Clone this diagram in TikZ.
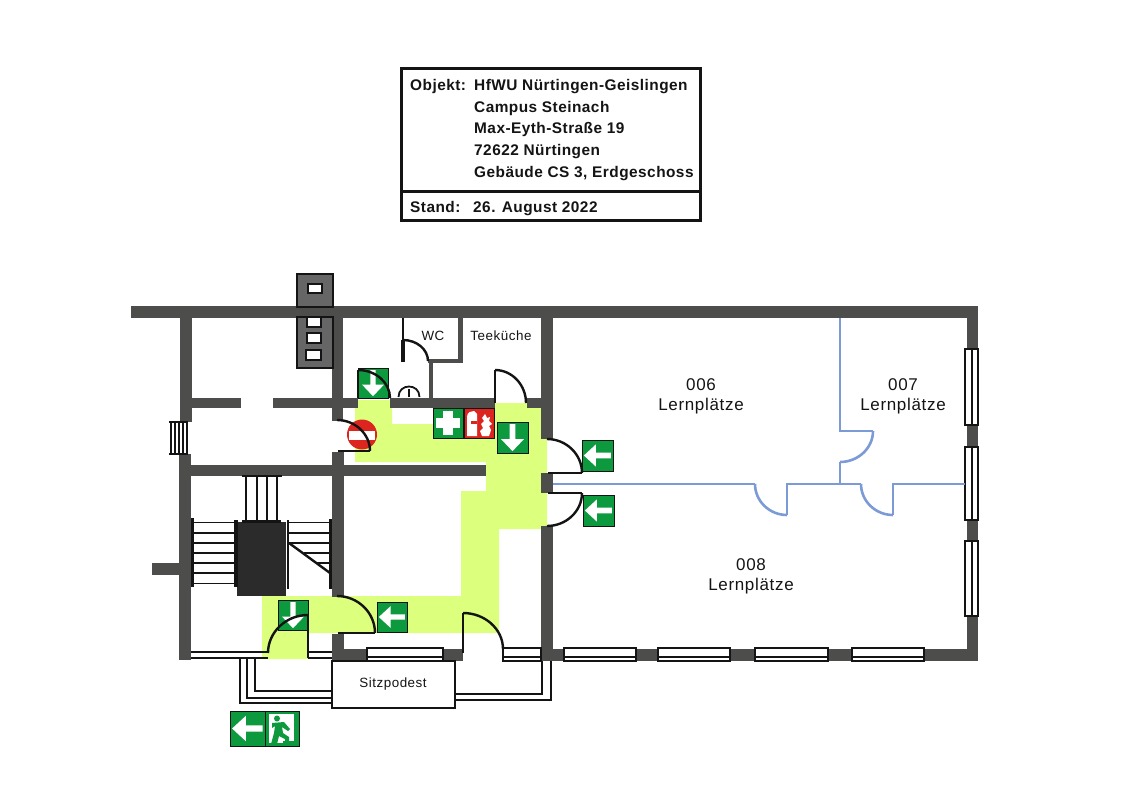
\documentclass[tikz,border=0pt]{standalone}
\usepackage{fontspec}
\setmainfont{Liberation Sans}
\newfontfamily\spaced[LetterSpace=4]{Liberation Sans}
\newfontfamily\boxfont[LetterSpace=3]{Liberation Sans Bold}
\definecolor{wallc}{HTML}{4D4D4B}
\definecolor{chimc}{HTML}{666666}
\definecolor{routec}{HTML}{DCFF7D}
\definecolor{signg}{HTML}{0D9A3E}
\definecolor{signr}{HTML}{DD2520}
\definecolor{bluec}{HTML}{7B9AD6}
\definecolor{inkc}{HTML}{141414}
\definecolor{stairc}{HTML}{2B2B2B}
\tikzset{
 wall/.style={fill=wallc,draw=none},
 ink/.style={draw=inkc,line width=2pt},
 doorline/.style={draw=inkc,line width=2.4pt},
 partition/.style={draw=bluec,line width=2.6pt,line join=miter},
 winframe/.style={draw=inkc,fill=white,line width=2pt},
 signbox/.style={draw=inkc,line width=1pt,fill=signg},
 whitefig/.style={fill=white,draw=none},
 label/.style={inner sep=0pt,font=\spaced\fontsize{17}{19}\selectfont,text=inkc},
 small/.style={inner sep=0pt,font=\spaced\fontsize{13.4}{15}\selectfont,text=inkc},
 boxtext/.style={inner sep=0pt,anchor=base west,font=\boxfont\fontsize{15.4}{17}\selectfont,text=inkc},
}
% quarter arcs: horizontal-then-vertical and vertical-then-horizontal
\newcommand\hvarc[4]{(#1,#2) .. controls +({.55*(#3-#1)},0) and +(0,{-.55*(#4-#2)}) .. (#3,#4)}
\newcommand\vharc[4]{(#1,#2) .. controls +(0,{.55*(#4-#2)}) and +({-.55*(#3-#1)},0) .. (#3,#4)}
% signs: x y size
\newcommand\leftsign[3]{\begin{scope}[shift={(#1,#2)},scale=#3]
 \draw[signbox,line width=1pt] (0,0) rectangle (1,1);
 \fill[whitefig] (.06,.5) -- (.45,.14) -- (.45,.41) -- (.93,.41) -- (.93,.59) -- (.45,.59) -- (.45,.86) -- cycle;
 \end{scope}}
\newcommand\downsign[3]{\begin{scope}[shift={(#1,#2)},scale=#3]
 \draw[signbox,line width=1pt] (0,0) rectangle (1,1);
 \fill[whitefig] (.5,.94) -- (.13,.55) -- (.41,.55) -- (.41,.07) -- (.59,.07) -- (.59,.55) -- (.87,.55) -- cycle;
 \end{scope}}
\begin{document}
\begin{tikzpicture}[x=1pt,y=-1pt]
\useasboundingbox (0,0) rectangle (1123,794);
% escape route
\fill[routec] (355,408) -- (358,408) -- (358,400) -- (392,400) -- (392,424) -- (433,424) -- (433,408) -- (495,408) -- (495,403) -- (527,403) -- (527,408) -- (541,408) -- (541,439) -- (547,439) -- (547,529) -- (499,529) -- (499,633) -- (344,633) -- (308,633) -- (308,659) -- (262,659) -- (262,596) -- (461,596) -- (461,491) -- (486,491) -- (486,462) -- (355,462) -- cycle;
% walls
\fill[wall] (131,306) rectangle (978,318);
\fill[wall] (180,318) rectangle (192,422);
\fill[wall] (179,454) rectangle (191,660);
\fill[wall] (152,563) rectangle (179,575);
\fill[wall] (192,398) rectangle (241,408);
\fill[wall] (273,398) rectangle (358,408);
\fill[wall] (390,398) rectangle (495,408);
\fill[wall] (527,398) rectangle (541,408);
\fill[wall] (332,318) rectangle (343,421);
\fill[wall] (332,452) rectangle (344,597);
\fill[wall] (332,634) rectangle (344,661);
\fill[wall] (191,465) rectangle (486,476);
\fill[wall] (541,318) rectangle (553,439);
\fill[wall] (541,473) rectangle (553,493);
\fill[wall] (541,526) rectangle (553,661);
\fill[wall] (332,649) rectangle (463,661);
\fill[wall] (503,649) rectangle (978,661);
\fill[wall] (967,318) rectangle (978,661);
\fill[wall] (429,363) rectangle (433,398);
\fill[wall] (428,359) rectangle (463,363);
\fill[wall] (458,318) rectangle (463,363);
% chimneys
\draw[ink,fill=chimc] (297,274) rectangle (333,307);
\draw[ink,fill=chimc] (297,317) rectangle (333,368);
\foreach \xa/\ya/\xb/\yb in {308/284/322/293,307/317/321/327,307/333/321/343,306/350/321/360}
 \draw[ink,fill=white] (\xa,\ya) rectangle (\xb,\yb);
% west window
\draw[inkc,line width=1.8pt] (169,422) -- (188,422) (169,454) -- (188,454);
\foreach \x in {171,175,179,183,187} \draw[inkc,line width=1.5pt] (\x,422) -- (\x,454);
% windows south
\foreach \xa/\xb in {367/443,503/541,564/636,658/730,755/828,852/924} {
 \draw[winframe] (\xa,648) rectangle (\xb,661);
 \draw[inkc,line width=2pt] (\xa,657) -- (\xb,657);
}
% windows east
\foreach \ya/\yb in {349/425,447/520,541/616} {
 \draw[winframe] (965,\ya) rectangle (978,\yb);
 \draw[inkc,line width=1.5pt] (972,\ya) -- (972,\yb);
}
% glass front
\draw[inkc,line width=1.3pt] (191,652) -- (268,652) (191,658) -- (268,658) (308,652) -- (332,652) (308,658) -- (332,658);
% rails
\draw[inkc,line width=2pt] (240,658) -- (240,703) -- (331,703);
\draw[inkc,line width=2pt] (247,658) -- (247,698) -- (331,698);
\draw[inkc,line width=2pt] (255,658) -- (255,691) -- (331,691);
\draw[inkc,line width=2pt] (456,694) -- (542,694) -- (542,661);
\draw[inkc,line width=2pt] (456,700) -- (551,700) -- (551,661);
% podium
\draw[draw=inkc,fill=white,line width=2.6pt] (332,661) rectangle (455,708);
% stairs
\fill[stairc] (237,522) rectangle (286,596);
\draw[inkc,line width=2pt] (242,476) -- (282,476);
\draw[inkc,line width=3pt] (242,521) -- (281,521);
\foreach \x/\w in {246/1.8,257/2.6,267/1.8,277/1.8} \draw[inkc,line width=\w pt] (\x,476) -- (\x,521);
\foreach \y/\w in {522/1,533/1.8,543/1.8,553/1.8,563/1.8,573/1.8,583/1} \draw[inkc,line width=\w pt] (192,\y) -- (237,\y);
\draw[inkc,line width=3pt] (192,518) -- (192,587);
\draw[inkc,line width=4pt] (236,520) -- (236,587);
\draw[inkc,line width=2pt] (288,520) -- (288,589);
\draw[inkc,line width=3pt] (330,519) -- (330,589);
\draw[inkc,line width=1pt] (288,522) -- (330,522);
\draw[inkc,line width=1.8pt] (288,533) -- (330,533) (288,543) -- (330,543) (304,553) -- (330,553) (317,563) -- (330,563);
\draw[inkc,line width=2.4pt] (289,543) -- (330,573);
% signs
\downsign{358}{368}{30}
\downsign{497}{422}{31}
\downsign{278}{600}{30}
\leftsign{582}{440}{31}
\leftsign{583}{495}{31}
\leftsign{377}{602}{30}
\leftsign{230}{711}{35}
% first aid
\draw[signbox] (433,408) rectangle (463,438);
\fill[whitefig] (443,411) rectangle (453,435);
\fill[whitefig] (436,418) rectangle (460,428);
% fire
\draw[signbox,fill=signr] (464,408) rectangle (494,438);
\fill[whitefig] (467,436) -- (467,417) .. controls (467,412) and (471,411) .. (474,411) -- (477,414) -- (477,436) -- cycle;
\fill[signr] (471,421) rectangle (477,423.5);
\fill[whitefig] (485,414) -- (487,418) -- (490,417) -- (489,421) -- (492,424) -- (489,426) -- (491,430) -- (489,436) -- (482,436) -- (480,431) -- (483,428) -- (481,424) -- (484,421) -- (482,418) -- cycle;
% exit man
\draw[signbox] (265,711) rectangle (299,746);
\fill[whitefig] (269,714) rectangle (294,743);
\fill[signg] (277,718.5) circle (3);
\fill[signg] (272,723) -- (284,722) -- (290,729) -- (288,731) -- (282,727) -- (283,733) -- (289,737) -- (289,744) -- (285,744) -- (285,739) -- (279,736) -- (277,744) -- (271,744) -- (274,733) -- (275,726) -- (272,728) -- cycle;
\fill[signg] (283,741) rectangle (295,744);
% no entry
\fill[signr] (362,434.5) circle (15);
\fill[white] (349,431) rectangle (375,439.5);
% doors
\draw[doorline] (403,318) -- (403,340);
\draw[draw=inkc,line width=4.5pt] (403,340) -- (403,362);
\draw[doorline] \hvarc{403}{340}{428}{361};
\draw[doorline] (358,398) -- (358,370);
\draw[doorline] \hvarc{358}{370}{390}{398};
\draw[doorline] (495,403) -- (495,370);
\draw[doorline] \hvarc{495}{370}{526}{403};
\draw[doorline] \hvarc{337}{420}{370}{451};
\draw[doorline] (338,451) -- (370,451);
\draw[doorline] \hvarc{547}{439}{582}{473};
\draw[doorline] (548,473) -- (582,473);
\draw[doorline] (548,493) -- (582,493);
\draw[doorline] \vharc{582}{493}{547}{526};
\draw[doorline] \hvarc{337}{596}{375}{633};
\draw[doorline] (338,633) -- (375,633);
\draw[doorline] (463,653) -- (463,613);
\draw[doorline] \hvarc{463}{613}{503}{649};
\draw[doorline] (503,649) -- (503,661);
\draw[doorline] \vharc{268}{653}{308}{615};
\draw[doorline] (308,615) -- (308,658);
% meter
\draw[inkc,line width=1.8pt] (398.5,397) .. controls (398.5,383) and (419.5,383) .. (419.5,397);
\draw[inkc,line width=1.3pt] (409,389) -- (409,397);
% partitions
\draw[partition] (553,484) -- (755,484);
\draw[partition] \vharc{755}{484}{787}{515};
\draw[partition] (787,515) -- (787,484) -- (861,484);
\draw[partition] \vharc{861}{484}{893}{515};
\draw[partition] (893,515) -- (893,484) -- (965,484);
\draw[partition] (840,318) -- (840,431) -- (873,431);
\draw[partition] \vharc{873}{431}{840}{462};
\draw[partition] (840,462) -- (840,484);
% room labels
\node[label] (n006) at (701,385) {006};
\node[label] (l006) at (701,406) {Lernplätze};
\node[label] (n007) at (903,385) {007};
\node[label] (l007) at (903,406) {Lernplätze};
\node[label] (n008) at (751,565) {008};
\node[label] (l008) at (751,586) {Lernplätze};
\node[small] (wc) at (433,336) {WC};
\node[small] (tee) at (501,336) {Teeküche};
\node[small] (sitz) at (393,684) {Sitzpodest};
% title block
\draw[draw=inkc,line width=3pt] (401.5,68.5) rectangle (700.5,220.5);
\draw[draw=inkc,line width=3pt] (401.5,192) -- (700.5,192);
\node[boxtext] (t1) at (410,90.5) {Objekt:};
\node[boxtext] (t2) at (474,90.5) {HfWU Nürtingen-Geislingen};
\node[boxtext] (t3) at (474,112.5) {Campus Steinach};
\node[boxtext] (t4) at (474,134) {Max-Eyth-Straße 19};
\node[boxtext] (t5) at (474,155.5) {72622 Nürtingen};
\node[boxtext] (t6) at (474,177.5) {Gebäude CS 3, Erdgeschoss};
\node[boxtext] (t7) at (410,212.5) {Stand:};
\node[boxtext] (t8) at (473,212.5) {26. August 2022};
\end{tikzpicture}
\end{document}
